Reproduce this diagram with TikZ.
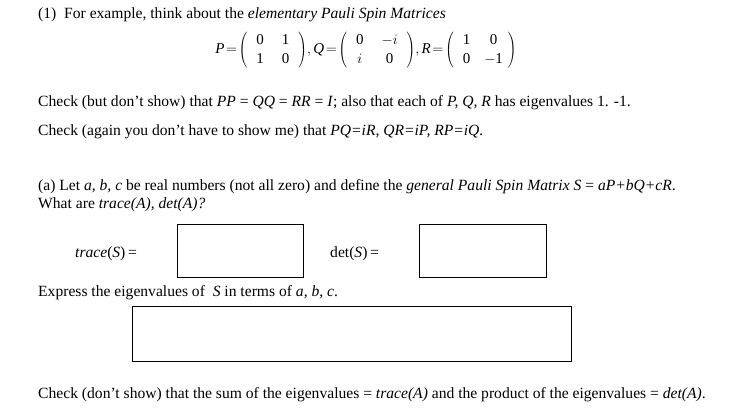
\documentclass[tikz,border=0pt]{standalone}
\usepackage{fontspec}
\setmainfont{Liberation Serif}
\begin{document}
\begin{tikzpicture}[x=1pt,y=-1pt,
  txt/.style={anchor=base west,inner sep=0pt,font=\fontsize{15.6}{18}\selectfont},
  ansbox/.style={draw,line width=0.8pt}]
\useasboundingbox (0,0) rectangle (732,415);
\node[txt] (l1) at (38,19) {(1)\ \ For example, think about the \textit{elementary Pauli Spin Matrices}};
\node[inner sep=0pt,font=\fontsize{15}{18}\selectfont] (mat) at (366,50) {\renewcommand{\arraystretch}{1.1}$\mathit{P}\!=\!\left(\begin{array}{cc}\;\mathrm{0}\;&\;\mathrm{1}\;\\ \mathrm{1}&\mathrm{0}\end{array}\right)\!,\mathit{Q}\!=\!\left(\begin{array}{cc}\;\mathrm{0}\;&\;-i\;\\ i&\mathrm{0}\end{array}\right)\!,\mathit{R}\!=\!\left(\begin{array}{cc}\;\mathrm{1}\;&\;\mathrm{0}\;\\ \mathrm{0}&-\mathrm{1}\end{array}\right)$};
\node[txt] (l2) at (38,106) {Check (but don't show) that \textit{PP} = \textit{QQ} = \textit{RR} = \textit{I}; also that each of \textit{P, Q, R} has eigenvalues 1. -1.};
\node[txt] (l3) at (38,135) {Check (again you don't have to show me) that \textit{PQ=iR, QR=iP, RP=iQ.}};
\node[txt] (l4) at (38,190) {(a) Let \textit{a, b, c} be real numbers (not all zero) and define the \textit{general Pauli Spin Matrix S} = \textit{aP+bQ+cR}.};
\node[txt] (l5) at (38,208) {What are \textit{trace(A), det(A)?}};
\node[txt] (tr) at (75,257) {\textit{trace}(\textit{S})\,=};
\draw[ansbox] (177,224) rectangle (303,277);
\node[txt] (dt) at (330,257) {det(\textit{S})\,=};
\draw[ansbox] (419,224) rectangle (546,277);
\node[txt] (l6) at (38,296) {Express the eigenvalues of \ \textit{S} in terms of \textit{a, b, c}.};
\draw[ansbox] (132,306) rectangle (571,361);
\node[txt] (l7) at (38,398) {Check (don't show) that the sum of the eigenvalues = \textit{trace(A)} and the product of the eigenvalues = \textit{det(A)}.};
\end{tikzpicture}
\end{document}
